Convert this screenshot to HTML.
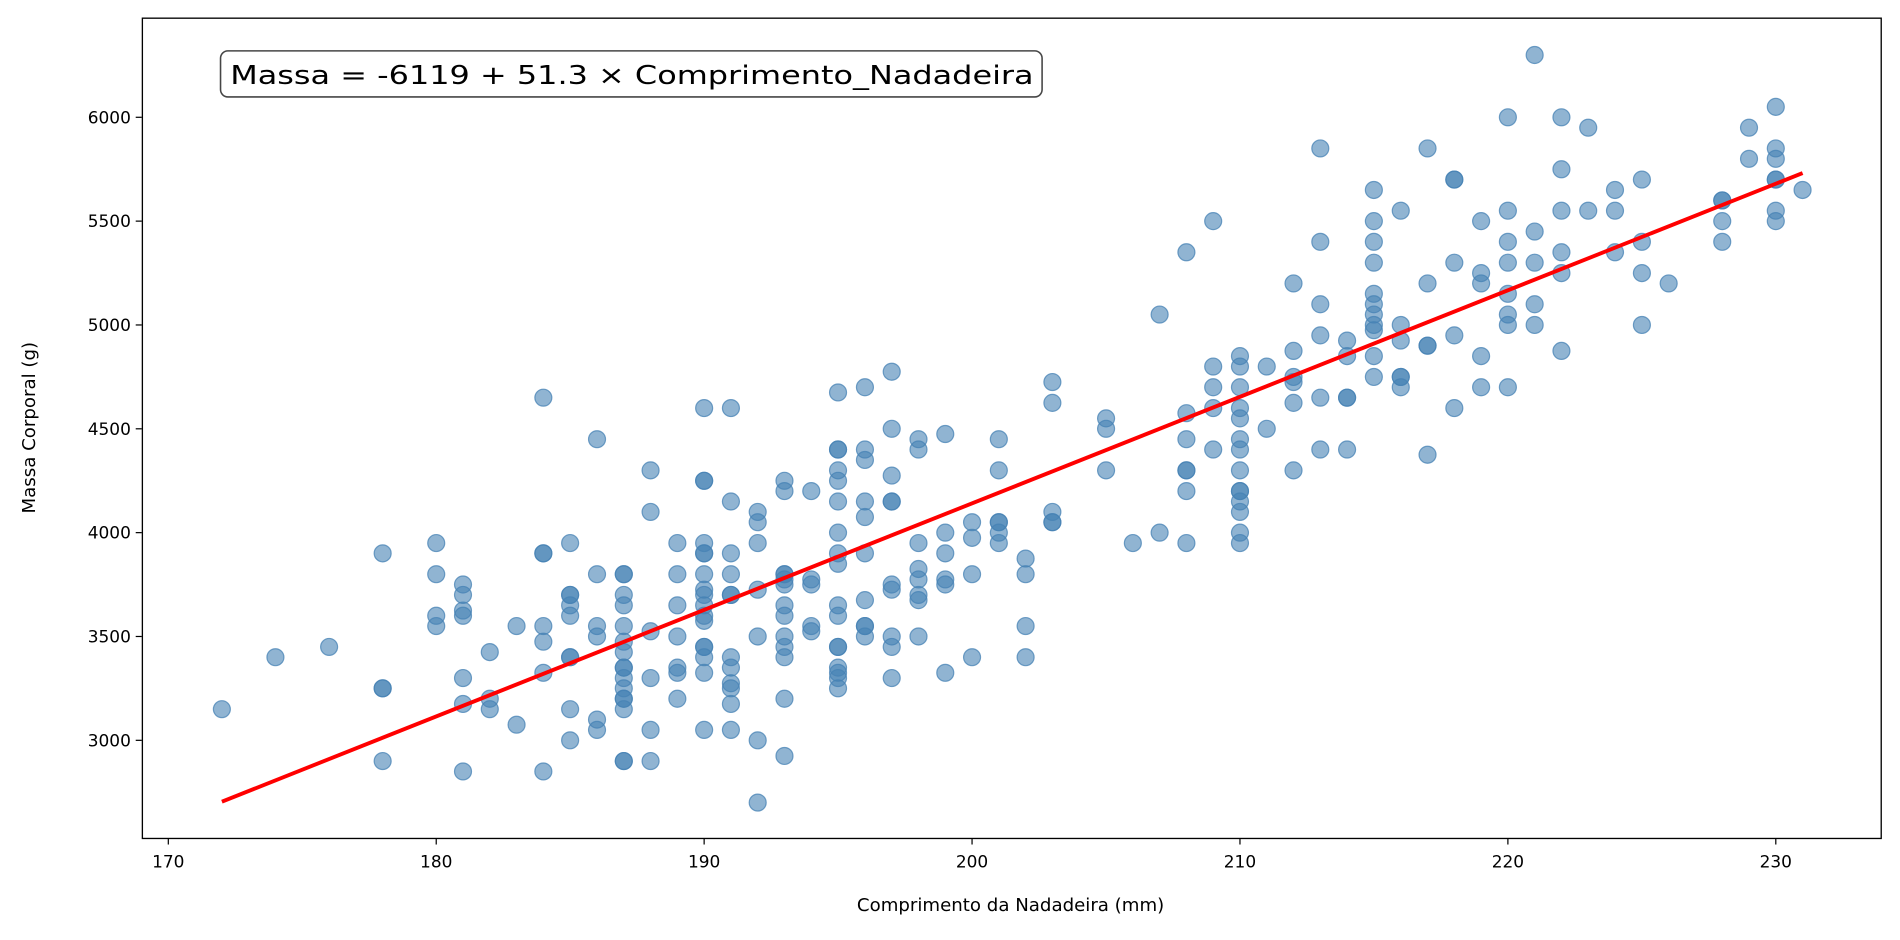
<!DOCTYPE html>
<html><head><meta charset="utf-8"><style>
body{margin:0;background:#fff;}
svg{display:block;}
svg text{font-family:"DejaVu Sans","Liberation Sans",sans-serif;fill:#000;}
</style></head><body>
<svg id="s" width="1900" height="940" viewBox="0 0 1568 775.8" preserveAspectRatio="none" xmlns="http://www.w3.org/2000/svg">
<rect width="1568" height="776" fill="#fff"/>
<g id="pts"></g>
<line id="reg" stroke="#ff0000" stroke-width="3.2"/>
<rect x="117.5" y="15" width="1435" height="677" fill="none" stroke="#000" stroke-width="1.1"/>
<g id="ticks" font-size="14"></g>
<text x="834" y="752" font-size="15" text-anchor="middle">Comprimento da Nadadeira (mm)</text>
<text transform="translate(29,353) rotate(-90)" font-size="15" text-anchor="middle">Massa Corporal (g)</text>
<rect x="182" y="42" width="678" height="38" rx="6" fill="#fff" stroke="#333" stroke-width="1.3" opacity="0.9"/>
<text x="190" y="69.5" font-size="21.5" textLength="663" lengthAdjust="spacingAndGlyphs">Massa = -6119 + 51.3 × Comprimento_Nadadeira</text>
</svg>
<script>
const X=v=>138.9+(v-170)*22.11, Y=v=>611-(v-3000)*0.1714;
const d={172:[3150],174:[3400],176:[3450],178:[3900,3250,3250,2900],180:[3950,3800,3600,3550],
181:[3750,3700,3625,3600,3300,3175,2850],182:[3425,3200,3150],183:[3550,3075],
184:[4650,3900,3900,3550,3475,3325,2850],185:[3950,3700,3700,3650,3600,3400,3400,3150,3000],
186:[4450,3800,3550,3500,3100,3050],187:[3800,3800,3700,3650,3550,3475,3425,3350,3350,3300,3250,3200,3200,3150,2900,2900],
188:[4300,4100,3525,3300,3050,2900],189:[3950,3800,3650,3500,3350,3325,3200],
190:[4600,4250,4250,3950,3900,3900,3800,3725,3700,3650,3600,3575,3450,3450,3400,3325,3050],
191:[4600,4150,3900,3800,3700,3700,3400,3350,3275,3250,3175,3050],192:[4100,4050,3950,3725,3500,3000,2700],
193:[4250,4200,3800,3800,3775,3750,3650,3600,3500,3450,3400,3200,2925],194:[4200,3775,3750,3550,3525],
195:[4675,4400,4400,4300,4250,4150,4000,3900,3850,3650,3600,3450,3450,3350,3325,3300,3250],
196:[4700,4400,4350,4150,4075,3900,3675,3550,3550,3500],197:[4775,4500,4275,4150,4150,3750,3725,3500,3450,3300],
198:[4450,4400,3950,3825,3775,3700,3675,3500],199:[4475,4000,3900,3775,3750,3325],200:[4050,3975,3800,3400],
201:[4450,4300,4050,4050,4000,3950],202:[3875,3800,3550,3400],203:[4725,4625,4100,4050,4050],205:[4550,4500,4300],
206:[3950],207:[5050,4000],208:[5350,4575,4450,4300,4300,4200,3950],209:[5500,4800,4700,4600,4400],
210:[4850,4800,4700,4600,4550,4450,4400,4300,4200,4200,4150,4100,4000,3950],211:[4800,4500],
212:[5200,4875,4750,4725,4625,4300],213:[5850,5400,5100,4950,4650,4400],214:[4925,4850,4650,4650,4400],
215:[5650,5500,5400,5300,5150,5100,5050,5000,4975,4850,4750],216:[5550,5000,4925,4750,4750,4700],
217:[5850,5200,4900,4900,4375],218:[5700,5700,5300,4950,4600],219:[5500,5250,5200,4850,4700],
220:[6000,5550,5400,5300,5150,5050,5000,4700],221:[6300,5450,5300,5100,5000],222:[6000,5750,5550,5350,5250,4875],
223:[5950,5550],224:[5650,5550,5350],225:[5700,5400,5250,5000],226:[5200],228:[5600,5600,5500,5400],
229:[5950,5800],230:[6050,5850,5800,5700,5700,5550,5500],231:[5650]};
let g=document.getElementById('pts'),h='';
for(const k in d)for(const v of d[k])h+=`<circle cx="${X(+k).toFixed(1)}" cy="${Y(v).toFixed(1)}" r="7" fill="rgba(70,130,180,0.6)" stroke="rgba(70,130,180,0.75)" stroke-width="1"/>`;
g.innerHTML=h;
const r=document.getElementById('reg');
r.setAttribute('x1',X(172));r.setAttribute('y1',Y(-6119+51.3*172));
r.setAttribute('x2',X(231));r.setAttribute('y2',Y(-6119+51.3*231));
let t='';
for(let v=170;v<=230;v+=10){const x=X(v);t+=`<line x1="${x}" y1="692" x2="${x}" y2="697" stroke="#000"/><text x="${x}" y="716" text-anchor="middle">${v}</text>`;}
for(let v=3000;v<=6000;v+=500){const y=Y(v);t+=`<line x1="112" y1="${y}" x2="117" y2="${y}" stroke="#000"/><text x="108" y="${y+5}" text-anchor="end">${v}</text>`;}
document.getElementById('ticks').innerHTML=t;
</script>
</body></html>
